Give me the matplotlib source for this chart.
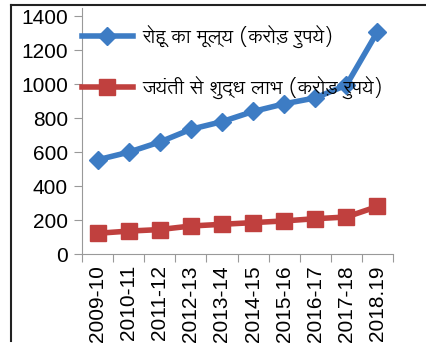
import numpy as np
import matplotlib.pyplot as plt
from matplotlib.lines import Line2D

years = ['2009-10', '2010-11', '2011-12', '2012-13', '2013-14',
         '2014-15', '2015-16', '2016-17', '2017-18', '2018.19']
rohu_value = [555, 600, 660, 735, 780, 840, 885, 920, 995, 1310]
net_profit = [122, 135, 144, 165, 175, 185, 195, 208, 218, 280]
labels = ['रोहू का मूल्य (करोड़ रुपये)', 'जयंती से शुद्ध लाभ (करोड़ रुपये)']

plt.rcParams['font.family'] = ['Liberation Sans', 'DejaVu Sans']

W, H = 426, 347
fig = plt.figure(figsize=(W / 100, H / 100), dpi=100)
ax = fig.add_axes([82 / W, 1 - 254 / H, (393 - 82) / W, (254 - 8) / H])

x = np.arange(len(years))
ax.plot(x, rohu_value, color='#3D7CC4', lw=4, marker='D', ms=9, label=labels[0])
ax.plot(x, net_profit, color='#C0403E', lw=4, marker='s', ms=11, label=labels[1])

ax.set_xlim(-0.5, len(years) - 0.5)
ax.set_ylim(0, 1450)
ax.set_yticks(range(0, 1401, 200))
ax.set_xticks(np.arange(-0.5, len(years)), minor=False)
ax.set_xticklabels([])
ax.set_xticks(x, minor=True)
ax.set_xticklabels(years, minor=True, rotation=90, fontsize=15)
ax.tick_params(axis='x', which='minor', length=0, pad=8)
ax.tick_params(axis='x', which='major', length=6, color='#999999')
ax.tick_params(axis='y', length=6, color='#999999', labelsize=15, pad=4)
for s in ['top', 'right']:
    ax.spines[s].set_visible(False)
for s in ['left', 'bottom']:
    ax.spines[s].set_color('#999999')

leg = ax.legend(loc='upper left', bbox_to_anchor=(0, 0.93), frameon=False,
                borderpad=0, borderaxespad=0,
                labelspacing=1.4, handlelength=2.6, handletextpad=0.5,
                prop={'family': ['Lohit Devanagari', 'DejaVu Sans'], 'size': 14})

fig.add_artist(Line2D([11 / W, 1], [1 - 5 / H, 1 - 5 / H], color='#222222', lw=1.5))
fig.add_artist(Line2D([11 / W, 11 / W], [1 - 5 / H, 1 - 341 / H], color='#222222', lw=1.5))

fig.savefig('out.png', dpi=100)
